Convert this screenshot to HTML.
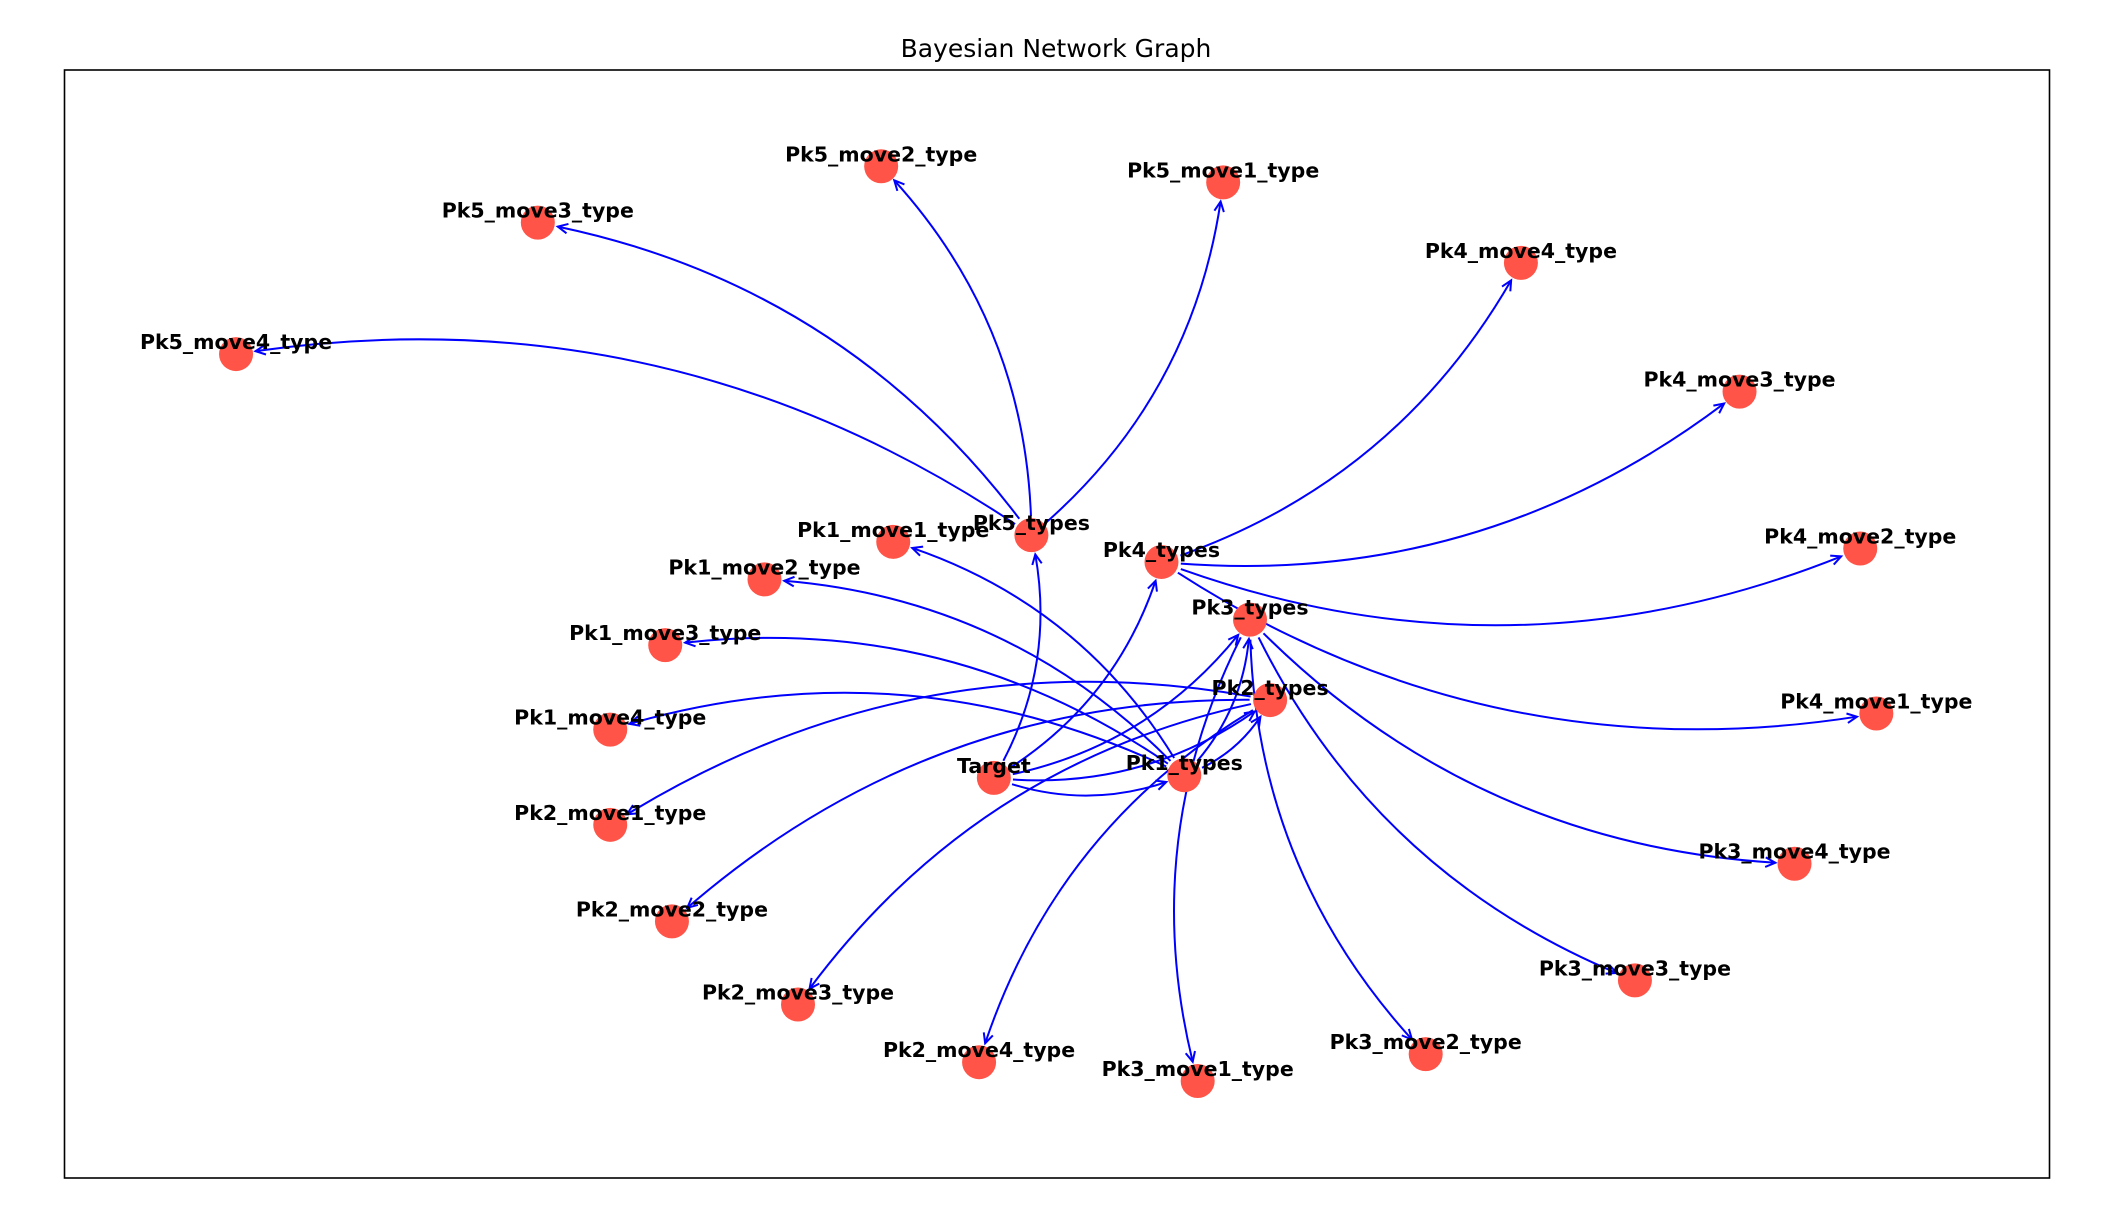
<!DOCTYPE html>
<html><head><meta charset="utf-8"><style>
html,body{margin:0;padding:0;background:#fff;}
svg{display:block;}
</style></head><body>
<svg id="chart" width="2103" height="1216" viewBox="0 0 2103 1216" xmlns="http://www.w3.org/2000/svg">
<rect x="0" y="0" width="2103" height="1216" fill="#fff"/>
<text x="1056" y="57" text-anchor="middle" font-family="DejaVu Sans, Liberation Sans, sans-serif" font-size="25">Bayesian Network Graph</text>
<rect x="64.5" y="70" width="1985" height="1108" fill="none" stroke="#000" stroke-width="1.6"/>
<g id="edges"></g>
<g id="nodes"></g>
<g id="labels"></g>
</svg>
<script>
const nodeNames = ["Target","Pk1_types","Pk2_types","Pk3_types","Pk4_types","Pk5_types",
"Pk1_move1_type","Pk1_move2_type","Pk1_move3_type","Pk1_move4_type",
"Pk2_move1_type","Pk2_move2_type","Pk2_move3_type","Pk2_move4_type",
"Pk3_move1_type","Pk3_move2_type","Pk3_move3_type","Pk3_move4_type",
"Pk4_move1_type","Pk4_move2_type","Pk4_move3_type","Pk4_move4_type",
"Pk5_move1_type","Pk5_move2_type","Pk5_move3_type","Pk5_move4_type"];
const nodeX = [741,883,947,932,866,769, 666,570,496,455, 455,501,595,730, 893,1063,1219,1338, 1399,1387,1297,1134, 912,657,401,176];
const nodeY = [580,578,522,462,419,399, 404,432,481,544, 615,687,749,792, 806,786,731,644, 532,409,292,196, 136,124,166,264];
const edgeFrom = ["Target","Target","Target","Target","Target","Pk1_types","Pk1_types",
"Pk1_types","Pk1_types","Pk1_types","Pk1_types",
"Pk2_types","Pk2_types","Pk2_types","Pk2_types",
"Pk3_types","Pk3_types","Pk3_types","Pk3_types",
"Pk4_types","Pk4_types","Pk4_types","Pk4_types",
"Pk5_types","Pk5_types","Pk5_types","Pk5_types"];
const edgeTo = ["Pk1_types","Pk2_types","Pk3_types","Pk4_types","Pk5_types","Pk2_types","Pk3_types",
"Pk1_move1_type","Pk1_move2_type","Pk1_move3_type","Pk1_move4_type",
"Pk2_move1_type","Pk2_move2_type","Pk2_move3_type","Pk2_move4_type",
"Pk3_move1_type","Pk3_move2_type","Pk3_move3_type","Pk3_move4_type",
"Pk4_move1_type","Pk4_move2_type","Pk4_move3_type","Pk4_move4_type",
"Pk5_move1_type","Pk5_move2_type","Pk5_move3_type","Pk5_move4_type"];

const S = 2103/1568;
const xs = v => v*S;
const ys = v => v*S;
const R = 17, RAD = 0.2;
const NS = "http://www.w3.org/2000/svg";
const eg = document.getElementById('edges'), ng = document.getElementById('nodes'), lg = document.getElementById('labels');
function q(p0,c,p1,t){return [(1-t)*(1-t)*p0[0]+2*(1-t)*t*c[0]+t*t*p1[0],(1-t)*(1-t)*p0[1]+2*(1-t)*t*c[1]+t*t*p1[1]];}
function findT(p0,c,p1,fromEnd){
  const ref = fromEnd? p1 : p0;
  for(let i=0;i<=400;i++){const t= fromEnd? 1-i/400 : i/400; const p=q(p0,c,p1,t);
    if(Math.hypot(p[0]-ref[0],p[1]-ref[1])>=R+2) return t;}
  return fromEnd?0.9:0.1;
}
function sub(p0,c,p1,a,b){
  const s=q(p0,c,p1,a), e=q(p0,c,p1,b);
  const d=[2*(1-a)*(c[0]-p0[0])+2*a*(p1[0]-c[0]), 2*(1-a)*(c[1]-p0[1])+2*a*(p1[1]-c[1])];
  const k=(b-a)/2;
  return [s,[s[0]+d[0]*k,s[1]+d[1]*k],e];
}
edgeFrom.forEach((f,i)=>{
  const a=nodeNames.indexOf(f), b=nodeNames.indexOf(edgeTo[i]);
  const p0=[xs(nodeX[a]),ys(nodeY[a])], p1=[xs(nodeX[b]),ys(nodeY[b])];
  const dx=p1[0]-p0[0], dy=p1[1]-p0[1];
  const c=[(p0[0]+p1[0])/2 - RAD*dy, (p0[1]+p1[1])/2 + RAD*dx];
  const t0=findT(p0,c,p1,false), t1=findT(p0,c,p1,true);
  const [s,cc,e]=sub(p0,c,p1,t0,t1);
  const path=document.createElementNS(NS,'path');
  
  
  path.setAttribute('d',`M${s[0]},${s[1]} Q${cc[0]},${cc[1]} ${e[0]},${e[1]}`);
  path.setAttribute('fill','none');path.setAttribute('stroke','#0000ff');path.setAttribute('stroke-width','2');
  eg.appendChild(path);
  const ang=Math.atan2(e[1]-cc[1],e[0]-cc[0]), L=11, w=0.45;
  const h=document.createElementNS(NS,'path');
  
  
  const l1=[e[0]-L*Math.cos(ang-w),e[1]-L*Math.sin(ang-w)], l2=[e[0]-L*Math.cos(ang+w),e[1]-L*Math.sin(ang+w)];
  h.setAttribute('d',`M${l1[0]},${l1[1]} L${e[0]},${e[1]} L${l2[0]},${l2[1]}`);
  h.setAttribute('fill','none');h.setAttribute('stroke','#0000ff');h.setAttribute('stroke-width','2');
  eg.appendChild(h);
});
nodeNames.forEach((n,i)=>{
  const c=document.createElementNS(NS,'circle');
  
  
  c.setAttribute('cx',xs(nodeX[i]));c.setAttribute('cy',ys(nodeY[i]));c.setAttribute('r',R);
  c.setAttribute('fill','#ff5447');
  ng.appendChild(c);
  const t=document.createElementNS(NS,'text');
  
  
  t.setAttribute('x',xs(nodeX[i]));t.setAttribute('y',ys(nodeY[i])-5);
  t.setAttribute('text-anchor','middle');
  t.setAttribute('font-family','DejaVu Sans, Liberation Sans, sans-serif');
  t.setAttribute('font-weight','bold');t.setAttribute('font-size','20.5');
  t.textContent=n;
  lg.appendChild(t);
});
</script>
</body></html>
